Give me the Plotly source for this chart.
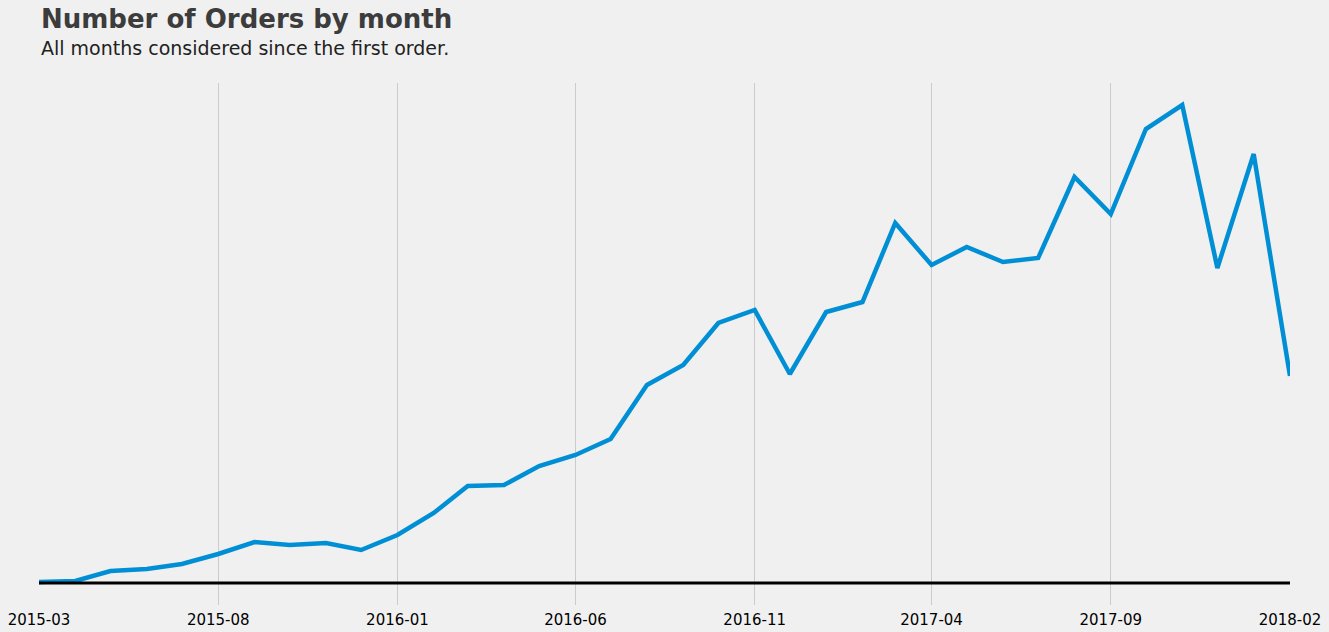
import plotly.graph_objects as go

months = ["2015-03", "2015-04", "2015-05", "2015-06", "2015-07", "2015-08", "2015-09", "2015-10",
          "2015-11", "2015-12", "2016-01", "2016-02", "2016-03", "2016-04", "2016-05", "2016-06",
          "2016-07", "2016-08", "2016-09", "2016-10", "2016-11", "2016-12", "2017-01", "2017-02",
          "2017-03", "2017-04", "2017-05", "2017-06", "2017-07", "2017-08", "2017-09", "2017-10",
          "2017-11", "2017-12", "2018-01", "2018-02"]
orders = [10, 20, 120, 140, 190, 290, 410, 380, 400, 330, 480, 700, 970, 980, 1170, 1280,
          1440, 1980, 2180, 2600, 2730, 2090, 2710, 2810, 3600, 3180, 3360, 3210, 3250, 4060,
          3690, 4540, 4780, 3150, 4290, 2070]
tick_labels = ["2015-03", "2015-08", "2016-01", "2016-06", "2016-11", "2017-04", "2017-09", "2018-02"]

x = [m + "-01" for m in months]

fig = go.Figure()
fig.add_trace(go.Scatter(x=x, y=orders, mode="lines",
                         line=dict(color="#008fd5", width=4.5), hoverinfo="x+y"))

fig.add_shape(type="line", xref="paper", x0=0, x1=1, yref="y", y0=0, y1=0,
              line=dict(color="black", width=3), layer="above")

plot_h = 522
fig.add_annotation(text="<b>Number of Orders by month</b>", xref="paper", yref="paper",
                   x=0, y=1 + 64 / plot_h, xanchor="left", yanchor="middle", showarrow=False,
                   font=dict(family="DejaVu Sans", size=26, color="#3c3c3c"))
fig.add_annotation(text="All months considered since the first order.", xref="paper", yref="paper",
                   x=0, y=1 + 35 / plot_h, xanchor="left", yanchor="middle", showarrow=False,
                   font=dict(family="DejaVu Sans", size=19, color="#222222"))

fig.update_layout(
    width=1329, height=632,
    margin=dict(l=39, r=39, t=83, b=27, autoexpand=False),
    paper_bgcolor="#f0f0f0", plot_bgcolor="#f0f0f0",
    showlegend=False,
    font=dict(family="DejaVu Sans", color="black"),
    xaxis=dict(type="date", range=["2015-03-01", "2018-02-01"], automargin=False,
               tickvals=[t + "-01" for t in tick_labels], ticktext=tick_labels,
               showgrid=True, gridcolor="#cbcbcb", gridwidth=1,
               zeroline=False, showline=False, ticks="", ticklabelstandoff=4,
               tickfont=dict(family="DejaVu Sans", size=15, color="black")),
    yaxis=dict(range=[-220, 5000], showgrid=False, zeroline=False, showticklabels=False,
               showline=False, ticks="", automargin=False),
)

fig.write_html("out.html")
